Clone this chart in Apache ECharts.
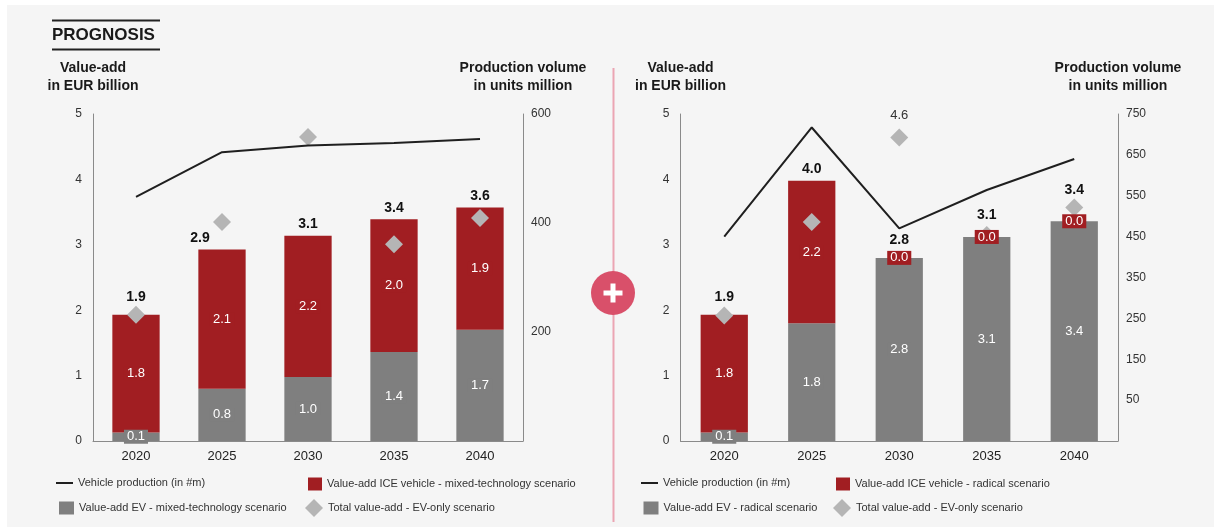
<!DOCTYPE html>
<html>
<head>
<meta charset="utf-8">
<title>Prognosis – value-add and production volume</title>
<script src="https://cdn.jsdelivr.net/npm/echarts@6/dist/echarts.min.js"></script>
<style>
  html, body { margin: 0; padding: 0; background: #ffffff; }
  #chart { width: 1214px; height: 527px; }
</style>
</head>
<body>
<div id="chart"></div>
<script>
// ---- data ----
const years = ['2020', '2025', '2030', '2035', '2040'];

// mixed-technology scenario (EUR billion / million units)
const evMixed = [0.13, 0.80, 0.98, 1.36, 1.70];
const iceMixed = [1.80, 2.13, 2.16, 2.03, 1.87];
const evOnlyMixed = [1.93, 3.35, 4.65, 3.01, 3.41];
const productionMixed = [448, 530, 542, 547, 554];

// radical scenario
const evRadical = [0.13, 1.80, 2.80, 3.12, 3.36];
const iceRadical = [1.80, 2.18, 0, 0, 0];
const evOnlyRadical = [1.92, 3.35, 4.64, 3.15, 3.57];
const productionRadical = [450, 717, 470, 564, 640];

// axis tick labels
const valueTicks = [0, 1, 2, 3, 4, 5];
const volumeTicksMixed = [200, 400, 600];
const volumeTicksRadical = [50, 150, 250, 350, 450, 550, 650, 750];

// ---- styling ----
const FONT = '"Liberation Sans", Arial, sans-serif';
const RED = '#a11e22';
const GREY = '#7f7f7f';
const DIAMOND = '#b5b5b5';
const AXIS = '#8a8a8a';

// nudges for the bold total labels so they clear the diamonds / 0.0 tags
const totalShiftMixed = [[0, -6], [-22, 0], [0, 0], [0, 0], [0, 0]];
const totalShiftRadical = [[0, -6], [0, 0], [0, -6], [0, -10], [0, -20]];
// diamonds whose value is printed
const evOnlyLabelledRadical = [2];

const fmt = v => Number(v).toFixed(1);

function panel(idx, cfg) {
  const totals = cfg.ev.map((v, i) => +(v + cfg.ice[i]).toFixed(4));
  const xAxis = {
    type: 'category', gridIndex: idx, data: years,
    axisTick: { show: false },
    axisLine: { lineStyle: { color: AXIS, width: 1 } },
    axisLabel: { color: '#222', fontSize: 13, fontFamily: FONT, margin: 9 }
  };
  const nameStyle = { fontWeight: 'bold', fontSize: 14, lineHeight: 18, color: '#1a1a1a', fontFamily: FONT };
  const yLeft = {
    type: 'value', gridIndex: idx, position: 'left',
    min: valueTicks[0], max: valueTicks[valueTicks.length - 1], interval: 1,
    name: 'Value-add\nin EUR billion', nameLocation: 'end', nameGap: 19, nameTextStyle: nameStyle,
    axisLine: { show: true, lineStyle: { color: AXIS, width: 1 } },
    axisTick: { show: false }, splitLine: { show: false },
    axisLabel: { color: '#333', fontSize: 12, fontFamily: FONT, margin: 11, customValues: valueTicks }
  };
  const yRight = {
    type: 'value', gridIndex: idx, position: 'right',
    min: cfg.volMin, max: cfg.volMax, interval: cfg.volStep,
    name: 'Production volume\nin units million', nameLocation: 'end', nameGap: 19, nameTextStyle: nameStyle,
    axisLine: { show: true, lineStyle: { color: AXIS, width: 1 } },
    axisTick: { show: false }, splitLine: { show: false },
    axisLabel: { color: '#333', fontSize: 12, fontFamily: FONT, margin: 8, customValues: cfg.volTicks }
  };
  const yl = idx * 2, yr = idx * 2 + 1;

  // value tags sit in the middle of each stacked segment, above the diamonds
  const tagSeries = (values, base, bg) => ({
    name: 'tag', type: 'scatter', xAxisIndex: idx, yAxisIndex: yl,
    symbol: 'circle', symbolSize: 1, itemStyle: { color: 'rgba(0,0,0,0)', opacity: 1 }, z: 6,
    data: values.map((v, i) => base[i] + v / 2),
    label: {
      show: true, position: 'inside', color: '#fff', fontSize: 13, fontFamily: FONT,
      backgroundColor: bg, padding: [1, 3, 0, 3],
      formatter: p => fmt(values[p.dataIndex])
    }
  });
  const zeros = cfg.ev.map(() => 0);

  const series = [
    {
      name: cfg.evName, type: 'bar', xAxisIndex: idx, yAxisIndex: yl, stack: 'va' + idx,
      barWidth: cfg.barWidth, data: cfg.ev, itemStyle: { color: GREY }
    },
    {
      name: cfg.iceName, type: 'bar', xAxisIndex: idx, yAxisIndex: yl, stack: 'va' + idx,
      barWidth: cfg.barWidth, data: cfg.ice, itemStyle: { color: RED }
    },
    {
      name: 'Total value-add - EV-only scenario', type: 'scatter', xAxisIndex: idx, yAxisIndex: yl,
      symbol: 'diamond', symbolSize: 18, itemStyle: { color: DIAMOND, opacity: 1 }, z: 3,
      data: cfg.evOnly.map((v, i) => cfg.evOnlyLabelled.includes(i)
        ? { value: v, label: { show: true, position: 'top', distance: 7, color: '#333', fontSize: 13,
                               fontFamily: FONT, formatter: p => fmt(p.value) } }
        : v)
    },
    tagSeries(cfg.ev, zeros, GREY),
    tagSeries(cfg.ice, cfg.ev, RED),
    {
      name: 'Total', type: 'scatter', xAxisIndex: idx, yAxisIndex: yl,
      symbol: 'circle', symbolSize: 1, itemStyle: { color: 'rgba(0,0,0,0)', opacity: 1 }, z: 6,
      data: totals.map((v, i) => ({ value: v, label: { offset: cfg.totalShift[i] } })),
      label: { show: true, position: 'top', distance: 4, color: '#111', fontSize: 14,
               fontWeight: 'bold', fontFamily: FONT, formatter: p => fmt(p.value) }
    },
    {
      name: 'Vehicle production (in #m)', type: 'line', xAxisIndex: idx, yAxisIndex: yr,
      data: cfg.production, symbol: 'none', z: 5,
      lineStyle: { color: '#1f1f1f', width: 2 }, itemStyle: { color: '#1f1f1f' }
    }
  ];
  return { xAxis, yAxes: [yLeft, yRight], series };
}

const left = panel(0, {
  ev: evMixed, ice: iceMixed, evOnly: evOnlyMixed, production: productionMixed,
  evName: 'Value-add EV - mixed-technology scenario',
  iceName: 'Value-add ICE vehicle - mixed-technology scenario',
  volMin: 0, volMax: 600, volStep: 200, volTicks: volumeTicksMixed,
  barWidth: '55%', totalShift: totalShiftMixed, evOnlyLabelled: []
});
const right = panel(1, {
  ev: evRadical, ice: iceRadical, evOnly: evOnlyRadical, production: productionRadical,
  evName: 'Value-add EV - radical scenario',
  iceName: 'Value-add ICE vehicle - radical scenario',
  volMin: -50, volMax: 750, volStep: 100, volTicks: volumeTicksRadical,
  barWidth: '54%', totalShift: totalShiftRadical, evOnlyLabelled: evOnlyLabelledRadical
});

const lineIcon = 'path://M0 0H34V4H0Z';
function legendItem(name, icon, leftPx, centerY, w, h) {
  return {
    left: leftPx, top: centerY - h / 2, itemWidth: w, itemHeight: h, itemGap: 0,
    selectedMode: false, padding: 0,
    textStyle: { fontSize: 11, color: '#333', fontFamily: FONT },
    data: [{ name, icon }]
  };
}

const option = {
  backgroundColor: '#f5f5f5',
  animation: false,
  textStyle: { fontFamily: FONT },
  grid: [
    { left: 93, top: 114, width: 430, height: 327 },
    { left: 680.5, top: 114, width: 437.5, height: 327 }
  ],
  xAxis: [left.xAxis, right.xAxis],
  yAxis: [...left.yAxes, ...right.yAxes],
  series: [...left.series, ...right.series],
  legend: [
    legendItem('Vehicle production (in #m)', lineIcon, 56, 484, 17, 13),
    legendItem('Value-add ICE vehicle - mixed-technology scenario', 'rect', 308, 484, 14, 13),
    legendItem('Value-add EV - mixed-technology scenario', 'rect', 59, 508, 15, 13),
    legendItem('Total value-add - EV-only scenario', 'diamond', 305, 508, 18, 18),
    legendItem('Vehicle production (in #m)', lineIcon, 641, 484, 17, 13),
    legendItem('Value-add ICE vehicle - radical scenario', 'rect', 836, 484, 14, 13),
    legendItem('Value-add EV - radical scenario', 'rect', 643.5, 508, 15, 13),
    legendItem('Total value-add - EV-only scenario', 'diamond', 833, 508, 18, 18)
  ],
  graphic: [
    // page margin
    { type: 'rect', shape: { x: 0, y: 0, width: 1214, height: 5 }, style: { fill: '#ffffff' }, silent: true },
    { type: 'rect', shape: { x: 0, y: 0, width: 7, height: 527 }, style: { fill: '#ffffff' }, silent: true },
    // heading with rules
    { type: 'line', shape: { x1: 52, y1: 20.5, x2: 160, y2: 20.5 }, style: { stroke: '#222', lineWidth: 2 }, silent: true },
    { type: 'line', shape: { x1: 52, y1: 49.5, x2: 160, y2: 49.5 }, style: { stroke: '#222', lineWidth: 2 }, silent: true },
    { type: 'text', left: 52, top: 27, silent: true,
      style: { text: 'PROGNOSIS', fill: '#1a1a1a', font: 'bold 17px ' + FONT } },
    // divider between the scenarios
    { type: 'line', shape: { x1: 613.5, y1: 68, x2: 613.5, y2: 522 }, style: { stroke: '#eba5b3', lineWidth: 2 }, silent: true },
    { type: 'circle', shape: { cx: 613, cy: 293, r: 22 }, style: { fill: '#d9506a' }, silent: true },
    { type: 'rect', shape: { x: 603.5, y: 290.5, width: 19, height: 5 }, style: { fill: '#ffffff' }, silent: true },
    { type: 'rect', shape: { x: 610.5, y: 283.5, width: 5, height: 19 }, style: { fill: '#ffffff' }, silent: true }
  ]
};

const chart = echarts.init(document.getElementById('chart'), null, { renderer: 'canvas' });
chart.setOption(option);
</script>
</body>
</html>
